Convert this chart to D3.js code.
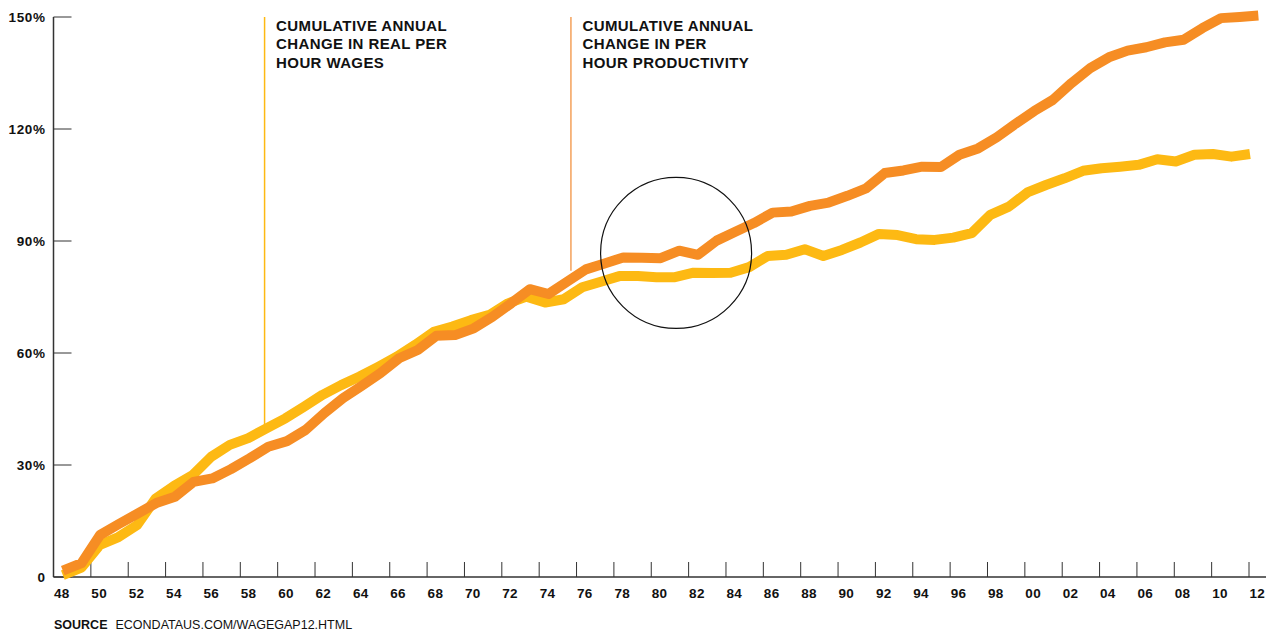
<!DOCTYPE html>
<html>
<head>
<meta charset="utf-8">
<script src="https://cdn.jsdelivr.net/npm/d3@7"></script>
<style>
  html, body { margin: 0; padding: 0; background: #fff; }
  svg { display: block; }
  text { font-family: "Liberation Sans", Arial, sans-serif; }
</style>
</head>
<body>
<svg id="chart" width="1266" height="631"></svg>
<script>
const years = d3.range(1948, 2013);
const productivity = [
  1.7, 3.7, 11.3, 14.2, 17.0, 19.8, 21.5, 25.5, 26.4, 28.9,
  31.8, 34.9, 36.4, 39.4, 43.9, 47.9, 51.2, 54.6, 58.6, 60.8,
  64.6, 64.8, 66.6, 69.7, 73.3, 77.1, 75.8, 79.1, 82.4, 84.0,
  85.6, 85.5, 85.4, 87.4, 86.3, 90.1, 92.5, 94.8, 97.6, 97.9,
  99.4, 100.3, 102.1, 104.1, 108.2, 108.9, 109.9, 109.8, 113.1, 114.8,
  117.8, 121.4, 124.8, 127.8, 132.3, 136.3, 139.2, 141.0, 141.9, 143.2,
  143.9, 147.0, 149.7, 150.0, 150.4
];
const wages = [
  0.5, 2.5, 8.6, 10.7, 13.9, 21.0, 24.4, 27.3, 32.2, 35.4,
  37.2, 39.9, 42.5, 45.6, 48.8, 51.4, 53.7, 56.3, 59.0, 62.2,
  65.7, 67.1, 68.8, 70.2, 73.3, 75.1, 73.5, 74.4, 77.6, 79.1,
  80.6, 80.6, 80.3, 80.3, 81.5, 81.4, 81.5, 83.0, 86.0, 86.3,
  87.8, 86.0, 87.6, 89.6, 91.9, 91.6, 90.5, 90.3, 90.9, 92.1,
  97.0, 99.2, 103.0, 105.0, 106.8, 108.8, 109.5, 109.9, 110.4, 111.9,
  111.3, 113.1, 113.3, 112.6, 113.3
];
const xTickYears = d3.range(1948, 2013, 2);
const yTicks = [0, 30, 60, 90, 120, 150];
const yTickLabels = ["0", "30%", "60%", "90%", "120%", "150%"];
const wageLabel = ["CUMULATIVE ANNUAL", "CHANGE IN REAL PER", "HOUR WAGES"];
const prodLabel = ["CUMULATIVE ANNUAL", "CHANGE IN PER", "HOUR PRODUCTIVITY"];
const wageLabelYear = 1959.3;
const prodLabelYear = 1975.7;
const circleCenter = { year: 1981.33, value: 86.8 };
const sourceBold = "SOURCE";
const sourceText = "ECONDATAUS.COM/WAGEGAP12.HTML";

const YELLOW = "#FDB913";
const ORANGE = "#F68D24";
const AXIS = "#333";

const svg = d3.select("#chart");
const x = d3.scaleLinear().domain([1948, 2012]).range([53.5, 1249]);
const xProd = d3.scaleLinear().domain([1948, 2012]).range([x(1948.5), x(2012.5)]);
const xWage = d3.scaleLinear().domain([1948, 2012]).range([x(1948.5), x(2012) + 1]);
const y = d3.scaleLinear().domain([0, 150]).range([577, 17]);

// axes
const gx = svg.append("g").attr("transform", `translate(0,${y(0)})`);
gx.append("line").attr("x1", 53.5).attr("x2", 1266).attr("stroke", AXIS).attr("stroke-width", 1.5);
gx.selectAll("line.t").data(xTickYears).join("line").attr("class", "t")
  .attr("x1", d => x(d)).attr("x2", d => x(d)).attr("y1", 0).attr("y2", -15)
  .attr("stroke", AXIS).attr("stroke-width", 1);
gx.selectAll("text").data(xTickYears).join("text")
  .attr("x", d => x(d) + 0.5).attr("y", 21)
  .attr("font-size", 13.5).attr("font-weight", "bold").attr("fill", "#111")
  .attr("letter-spacing", 0.3)
  .text(d => String(d % 100).padStart(2, "0"));

const gy = svg.append("g").attr("transform", `translate(53.5,0)`);
gy.append("line").attr("y1", y(150)).attr("y2", y(0)).attr("stroke", AXIS).attr("stroke-width", 1.5);
gy.selectAll("line.t").data(yTicks).join("line").attr("class", "t")
  .attr("x1", 0).attr("x2", 18).attr("y1", d => y(d)).attr("y2", d => y(d))
  .attr("stroke", AXIS).attr("stroke-width", 1);
gy.selectAll("text").data(yTicks).join("text")
  .attr("x", -8).attr("y", d => y(d) + 5).attr("text-anchor", "end")
  .attr("font-size", 13.5).attr("font-weight", "bold").attr("fill", "#111")
  .attr("letter-spacing", 0.6)
  .text((d, i) => yTickLabels[i]);

// annotation lines
svg.append("line").attr("x1", x(wageLabelYear)).attr("x2", x(wageLabelYear))
  .attr("y1", y(150)).attr("y2", y(40)).attr("stroke", YELLOW).attr("stroke-width", 1.5);
svg.append("line").attr("x1", x(prodLabelYear)).attr("x2", x(prodLabelYear))
  .attr("y1", y(150)).attr("y2", y(82)).attr("stroke", "#F4A15A").attr("stroke-width", 1.5);

function label(lines, x0) {
  const t = svg.append("text").attr("x", x0).attr("y", 30)
    .attr("font-size", 15).attr("font-weight", "bold").attr("fill", "#111")
    .attr("letter-spacing", 0.4);
  lines.forEach((l, i) => t.append("tspan").attr("x", x0).attr("y", 30.5 + i * 18.5).text(l));
}
label(wageLabel, x(wageLabelYear) + 11.5);
label(prodLabel, x(prodLabelYear) + 11.5);

// lines
const wageLine = d3.line().x((d, i) => xWage(years[i])).y(d => y(d));
const prodLine = d3.line().x((d, i) => xProd(years[i])).y(d => y(d));
svg.append("path").attr("d", wageLine(wages)).attr("fill", "none")
  .attr("stroke", YELLOW).attr("stroke-width", 10).attr("stroke-linejoin", "round");
svg.append("path").attr("d", prodLine(productivity)).attr("fill", "none")
  .attr("stroke", ORANGE).attr("stroke-width", 10).attr("stroke-linejoin", "round");

// circle
svg.append("circle").attr("cx", x(circleCenter.year)).attr("cy", y(circleCenter.value))
  .attr("r", 75.5).attr("fill", "none").attr("stroke", "#111").attr("stroke-width", 1.2);

// source
const src = svg.append("text").attr("x", 54).attr("y", 629).attr("font-size", 12.5).attr("fill", "#111");
src.append("tspan").attr("font-weight", "bold").text(sourceBold);
src.append("tspan").attr("dx", 8).text(sourceText);
</script>
</body>
</html>
